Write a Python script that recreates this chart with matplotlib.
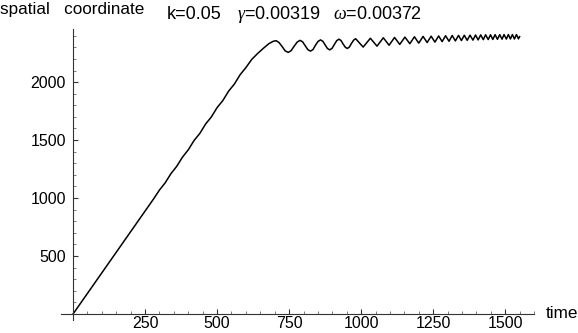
import numpy as np
import matplotlib.pyplot as plt
from matplotlib.ticker import MultipleLocator

plt.rcParams['font.family'] = ['Liberation Sans', 'DejaVu Sans']
plt.rcParams['mathtext.fontset'] = 'custom'
plt.rcParams['mathtext.it'] = 'Liberation Serif:italic'
plt.rcParams['mathtext.rm'] = 'Liberation Sans'

# ramp part with its small wiggles
t_ramp = [0, 80, 160, 240, 280, 300, 320, 340, 360, 380, 400, 420, 440,
          460, 480, 500, 520, 540, 560, 580, 600, 620, 640, 660, 680, 695]
x_ramp = [0, 284, 568, 852, 994, 1069, 1132, 1211, 1274, 1353, 1416,
          1496, 1557, 1638, 1699, 1780, 1841, 1922, 1983, 2064, 2125, 2195,
          2245, 2290, 2332, 2352]

# first, slow oscillations
t_wave = [705, 715, 726, 736, 747, 757, 767, 778, 788, 797, 806, 815, 824,
          833, 841, 850, 859, 867, 875, 883, 891, 899, 907, 915, 923, 930,
          937, 945, 952, 959, 966, 974]
x_wave = [2357, 2341, 2306, 2270, 2256, 2271, 2308, 2345, 2360, 2347, 2313,
          2280, 2267, 2281, 2316, 2350, 2364, 2352, 2321, 2290, 2278, 2291,
          2324, 2357, 2370, 2359, 2330, 2301, 2290, 2302, 2332, 2362]

# faster oscillations: extrema
t_osc = [981, 1007, 1032, 1055, 1077, 1097, 1116, 1134, 1152, 1169, 1185,
         1200, 1215, 1229, 1243, 1256, 1269, 1281, 1293, 1305, 1316, 1327,
         1338, 1348, 1358, 1368, 1378, 1388, 1397, 1406, 1415, 1424, 1432,
         1441, 1449, 1457, 1465, 1473, 1481, 1489, 1496, 1504, 1511, 1518,
         1525, 1532, 1539, 1546, 1550]
x_osc = [2374, 2302, 2378, 2310, 2382, 2318, 2385, 2325, 2388, 2331, 2391,
         2336, 2394, 2341, 2396, 2345, 2398, 2349, 2400, 2352, 2402, 2355,
         2403, 2358, 2404, 2360, 2405, 2362, 2406, 2364, 2407, 2366, 2408,
         2367, 2408, 2368, 2409, 2369, 2409, 2370, 2410, 2371, 2410, 2372,
         2410, 2372, 2410, 2373, 2392]

t = np.array(t_ramp + t_wave + t_osc)
x = np.array(x_ramp + x_wave + x_osc)

fig = plt.figure(figsize=(5.78, 3.33), dpi=100)
ax = fig.add_axes([0.1064, 0.0396, 0.8175, 0.873])
ax.plot(t, x, color='black', lw=1.1)

ax.set_xlim(-40, 1600)
ax.set_ylim(-50, 2457)
ax.spines['left'].set_position(('data', 0))
ax.spines['bottom'].set_position(('data', 0))
ax.spines['top'].set_visible(False)
ax.spines['right'].set_visible(False)
for s in ['left', 'bottom']:
    ax.spines[s].set_color('#333333')
    ax.spines[s].set_linewidth(0.8)

ax.set_xticks([250, 500, 750, 1000, 1250, 1500])
ax.set_yticks([500, 1000, 1500, 2000])
ax.xaxis.set_minor_locator(MultipleLocator(50))
ax.yaxis.set_minor_locator(MultipleLocator(100))
ax.tick_params(which='major', direction='in', length=3.5, width=0.8,
               color='#333333', labelsize=11.5)
ax.tick_params(axis='x', which='major', pad=1.5)
ax.tick_params(axis='y', which='major', pad=5)
ax.tick_params(which='minor', direction='in', length=2, width=0.6,
               color='#666666')

fig.text(0.0, 0.972, 'spatial   coordinate', fontsize=12.3, va='center', ha='left')
fig.text(167/578, 0.955, 'k=0.05', fontsize=13, va='center', ha='left')
fig.text(237/578, 0.955, r'$\gamma$=0.00319', fontsize=13, va='center', ha='left')
fig.text(333/578, 0.955, r'$\omega$=0.00372', fontsize=13, va='center', ha='left')
fig.text(0.945, 0.06, 'time', fontsize=12.3, va='center', ha='left')

fig.savefig('out.png', dpi=100)
